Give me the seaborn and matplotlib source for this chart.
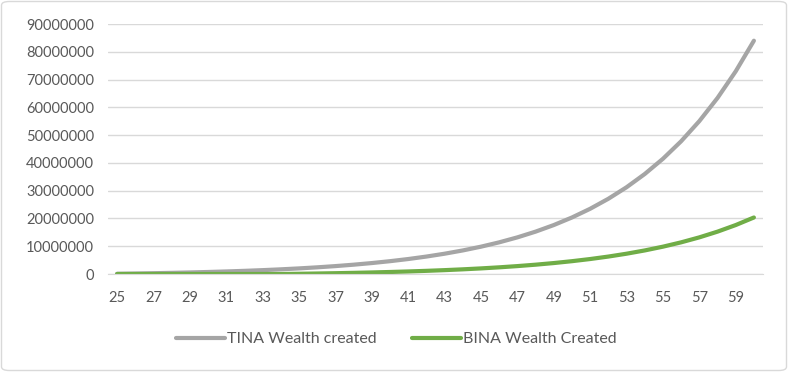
import numpy as np
import pandas as pd
import matplotlib
matplotlib.use("Agg")
import matplotlib.pyplot as plt
import seaborn as sns
from matplotlib.patches import FancyBboxPatch

# ages on the category axis
ages = list(range(25, 61))

# wealth values
tina = [82800, 178000, 287500, 413500, 558300, 724800, 916300, 1136600, 1389900, 1681100,
        2016100, 2401300, 2844300, 3353800, 3939700, 4613400, 5388200, 6279300, 7303900, 8482300,
        9837500, 11395900, 13188100, 15249100, 17619300, 20345000, 23479500, 27084200, 31229700, 35996900,
        41479200, 47783900, 55034300, 63372300, 72960900, 83987800]
bina = [0, 0, 0, 0, 0, 0, 0, 0, 0, 0,
        82800, 178000, 287500, 413500, 558300, 724800, 916300, 1136600, 1389900, 1681100,
        2016100, 2401300, 2844300, 3353800, 3939700, 4613400, 5388200, 6279300, 7303900, 8482300,
        9837500, 11395900, 13188100, 15249100, 17619300, 20345000]

series_names = ["TINA Wealth created", "BINA Wealth Created"]
colors = ["#A5A5A5", "#70AD47"]

df = pd.DataFrame({
    "age": ages * 2,
    "wealth": tina + bina,
    "series": [series_names[0]] * len(ages) + [series_names[1]] * len(ages),
})

sns.set_style("white")
plt.rcParams["font.family"] = ["Lato", "DejaVu Sans"]
text_col = "#595959"

fig = plt.figure(figsize=(7.88, 3.72), dpi=100)
ax = fig.add_axes([108 / 788, 1 - 274 / 372, 655 / 788, 250 / 372])

sns.lineplot(data=df, x="age", y="wealth", hue="series", palette=colors,
             linewidth=3, ax=ax, legend=True)

ax.set_xlim(24.5, 60.5)
ax.set_ylim(0, 90000000)
ax.set_xticks(range(25, 60, 2))
ax.set_yticks(range(0, 90000001, 10000000))
ax.set_yticklabels([str(v) for v in range(0, 90000001, 10000000)])
ax.set_xlabel("")
ax.set_ylabel("")
ax.yaxis.grid(True, color="#D9D9D9", linewidth=1)
ax.set_axisbelow(True)
for s in ["top", "right", "left"]:
    ax.spines[s].set_visible(False)
ax.spines["bottom"].set_color("#D9D9D9")
ax.tick_params(axis="y", length=0, labelsize=10.5, colors=text_col, pad=10)
ax.tick_params(axis="x", length=0, labelsize=10.5, colors=text_col, pad=12)

handles, labels = ax.get_legend_handles_labels()
ax.get_legend().remove()
fig.legend(handles, labels, loc="center", bbox_to_anchor=(396 / 788, 1 - 339 / 372),
           ncol=2, frameon=False, fontsize=11.5, handlelength=3.1, handletextpad=0.1,
           columnspacing=2.2, labelcolor=text_col)

fig.patches.append(FancyBboxPatch((1.5 / 788, 1.5 / 372), 785 / 788, 369 / 372,
                                  boxstyle="round,pad=0,rounding_size=0.01",
                                  transform=fig.transFigure, fill=False,
                                  edgecolor="#D9D9D9", linewidth=1))

fig.savefig("out.png", dpi=100)
